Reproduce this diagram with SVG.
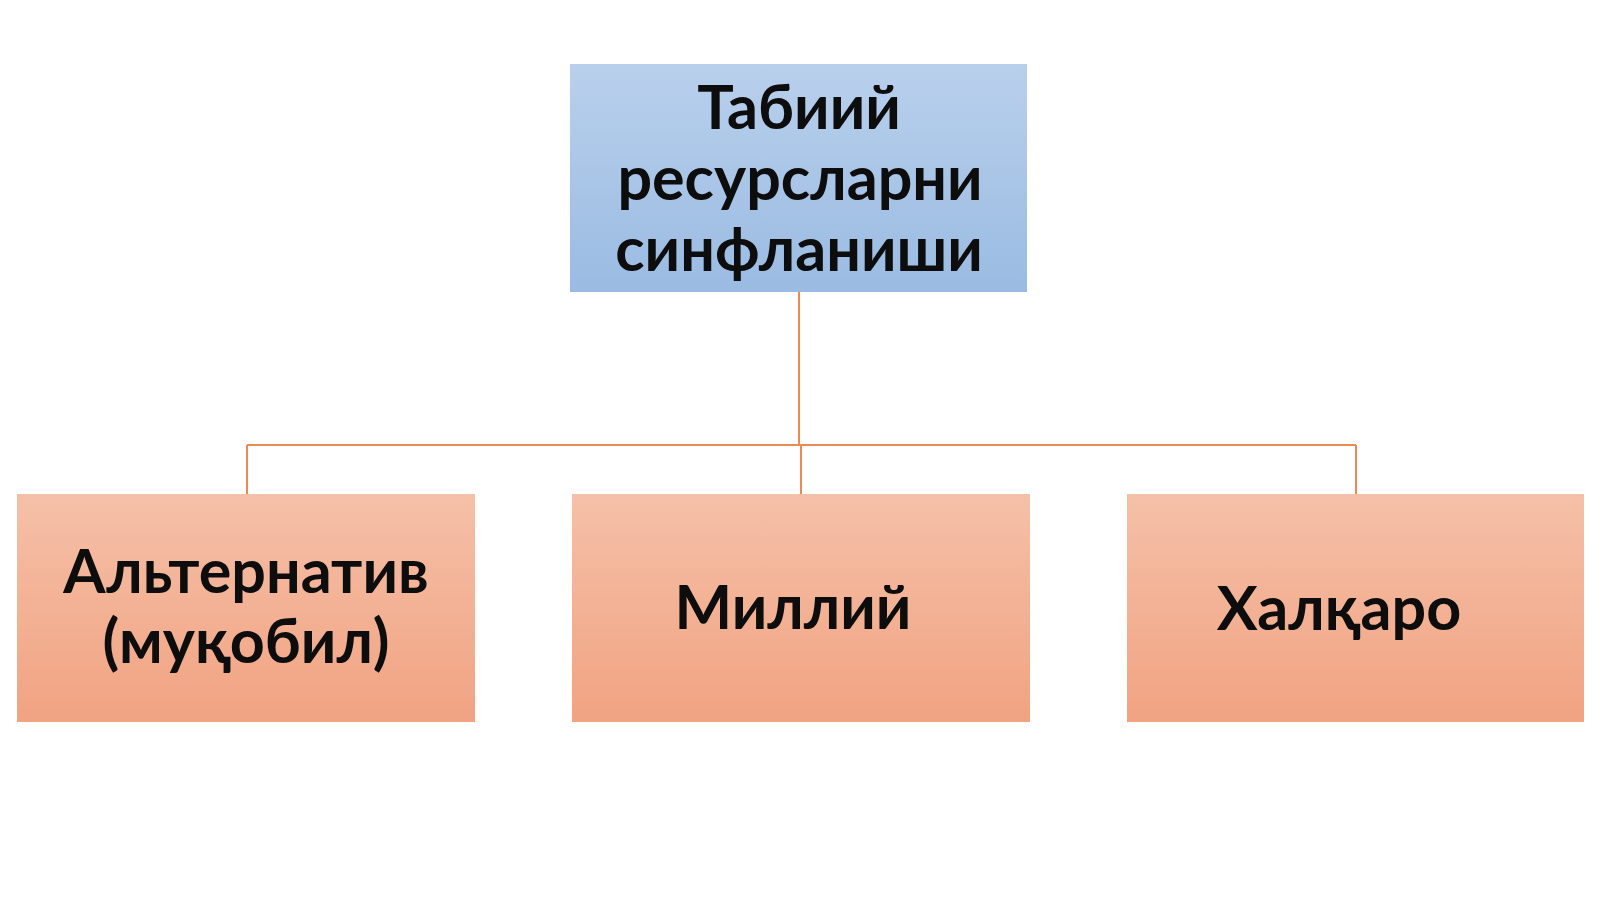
<svg xmlns="http://www.w3.org/2000/svg" width="1600" height="899" viewBox="0 0 1600 899">
<defs>
<linearGradient id="gBlue" x1="0" y1="0" x2="0" y2="1">
<stop offset="0" stop-color="#b9d0ec"/>
<stop offset="1" stop-color="#9abbe2"/>
</linearGradient>
<linearGradient id="gOrange" x1="0" y1="0" x2="0" y2="1">
<stop offset="0" stop-color="#f5c0a8"/>
<stop offset="1" stop-color="#f1a382"/>
</linearGradient>
<style>
.lbl{font-family:Lato,"Open Sans","Liberation Sans",sans-serif;font-weight:bold;font-size:61px;fill:#0d0d0d;text-anchor:middle}
.con{fill:none;stroke:#ec8a52;stroke-width:2}
</style>
</defs>
<rect width="1600" height="899" fill="#ffffff"/>
<g id="connectors">
<path class="con" d="M799 292 V445"/>
<path class="con" d="M247 445 H1356"/>
<path class="con" d="M247 445 V494"/>
<path class="con" d="M801 445 V494"/>
<path class="con" d="M1356 445 V494"/>
</g>
<g id="node-root">
<rect x="570" y="64" width="457" height="228" fill="url(#gBlue)"/>
<text class="lbl" x="799" y="129">Табиий</text>
<text class="lbl" x="800" y="200">ресурсларни</text>
<text class="lbl" x="799" y="271">синфланиши</text>
</g>
<g id="node-alt">
<rect x="17" y="494" width="458" height="228" fill="url(#gOrange)"/>
<text class="lbl" x="246" y="593">Альтернатив</text>
<text class="lbl" x="246" y="663">(муқобил)</text>
</g>
<g id="node-national">
<rect x="572" y="494" width="458" height="228" fill="url(#gOrange)"/>
<text class="lbl" x="793" y="629">Миллий</text>
</g>
<g id="node-intl">
<rect x="1127" y="494" width="457" height="228" fill="url(#gOrange)"/>
<text class="lbl" x="1339" y="630">Халқаро</text>
</g>
</svg>
